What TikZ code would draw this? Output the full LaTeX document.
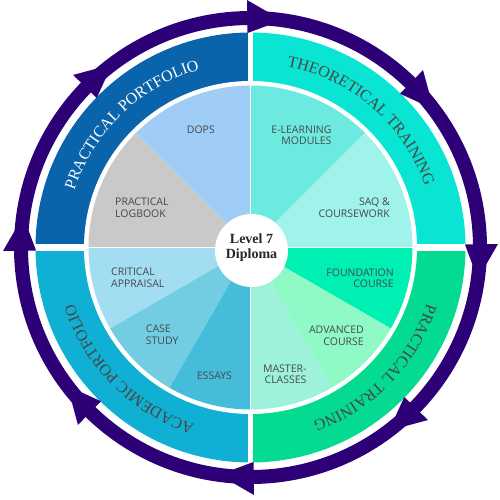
\documentclass[tikz,border=0pt]{standalone}
\usepackage{fontspec}
\setmainfont{Open Sans}
\newfontfamily\bandfont{Liberation Serif}
\usetikzlibrary{decorations.text}

\definecolor{ringpurple}{RGB}{45,0,120}
\definecolor{labelgray}{RGB}{72,72,72}
\definecolor{bandgray}{RGB}{70,70,70}
% outer bands
\definecolor{ppband}{RGB}{10,100,171}
\definecolor{ttband}{RGB}{10,228,210}
\definecolor{ptband}{RGB}{5,218,145}
\definecolor{apband}{RGB}{16,176,212}
% inner wedges
\definecolor{dops}{RGB}{160,205,245}
\definecolor{logbook}{RGB}{201,201,201}
\definecolor{elearn}{RGB}{109,234,224}
\definecolor{saq}{RGB}{159,243,234}
\definecolor{foundation}{RGB}{0,240,180}
\definecolor{advanced}{RGB}{143,250,198}
\definecolor{master}{RGB}{158,242,220}
\definecolor{critical}{RGB}{162,221,242}
\definecolor{casestudy}{RGB}{114,205,226}
\definecolor{essays}{RGB}{69,189,218}

\tikzset{
  wedgelabel/.style={font=\fontsize{10.5}{11.7}\selectfont, text=labelgray, inner sep=0pt},
  bandtext/.style={decorate, decoration={text along path, text align=center, text color=#1}},
  bandtext/.default=bandgray,
}
\newcommand{\bandsize}{\bandfont\fontsize{16}{16}\selectfont}

\begin{document}
\begin{tikzpicture}[x=1pt,y=1pt]

\useasboundingbox (-250.5,-251.5) rectangle (249.5,247.5);

% outer bands
\foreach \a/\c in {90/ppband, 0/ttband, -90/ptband, 180/apband}
  \fill[\c] (0,0) -- (\a:215) arc[start angle=\a, end angle=\a+90, radius=215] -- cycle;
\fill[white] (0,0) circle[radius=166.5];
\draw[white, line width=5] (0,-220) -- (0,220);
\draw[white, line width=7] (-220,0) -- (220,0);

% inner wedges
\foreach \a/\b/\c in {90/135/dops, 135/180/logbook, 45/90/elearn, 0/45/saq,
                      -30/0/foundation, -60/-30/advanced, -90/-60/master,
                      180/210/critical, 210/240/casestudy, 240/270/essays}
  \fill[\c] (0,0) -- (\a:162) arc[start angle=\a, end angle=\b, radius=162] -- cycle;
\draw[white, line width=1.2] (-162,0) -- (162,0);
\draw[white, line width=1.2] (0,-162) -- (0,162);

% ring with arrows
\draw[ringpurple, line width=14] (0,0) circle[radius=229.5];
\foreach \t in {90,45,...,-225}
  \fill[ringpurple] (\t+0.8:214.5) -- (\t+0.8:247.5) -- (\t-7.9:229.5) -- cycle;

% band titles
\path[bandtext=white, decoration={text={|\bandsize|PRACTICAL PORTFOLIO}}]
  (174:185) arc[start angle=174, end angle=94, radius=185];
\path[bandtext, decoration={text={|\bandsize|THEORETICAL TRAINING}}]
  (89:185) arc[start angle=89, end angle=9, radius=185];
\path[bandtext, decoration={text={|\bandsize|PRACTICAL TRAINING}}]
  (-4:185) arc[start angle=-4, end angle=-84, radius=185];
\path[bandtext, decoration={text={|\bandsize|ACADEMIC PORTFOLIO}}]
  (265:185) arc[start angle=265, end angle=185, radius=185];

% wedge labels
\node[wedgelabel, anchor=west] (dopslabel) at (-63.8,117.5) {DOPS};
\node[wedgelabel, anchor=west, align=left] (logbooklabel) at (-135.5,40) {PRACTICAL\\LOGBOOK};
\node[wedgelabel, anchor=east, align=right] (elearnlabel) at (81.2,112.3) {E-LEARNING\\MODULES};
\node[wedgelabel, anchor=east, align=right] (saqlabel) at (139.5,40) {SAQ \&\\COURSEWORK};
\node[wedgelabel, anchor=east, align=right] (foundlabel) at (143.5,-30.8) {FOUNDATION\\COURSE};
\node[wedgelabel, anchor=east, align=right] (advlabel) at (113.5,-88) {ADVANCED\\COURSE};
\node[wedgelabel, anchor=east, align=right] (masterlabel) at (56.2,-126.7) {MASTER-\\CLASSES};
\node[wedgelabel, anchor=west, align=left] (criticallabel) at (-139.5,-30.5) {CRITICAL\\APPRAISAL};
\node[wedgelabel, anchor=west, align=left] (caselabel) at (-104.8,-87.5) {CASE\\STUDY};
\node[wedgelabel, anchor=west] (essayslabel) at (-53.8,-128.5) {ESSAYS};

% centre
\node[circle, fill=white, minimum size=73, inner sep=0pt] (hub) at (1,-3) {};
\node[align=center, text=black!85, font=\bandfont\bfseries\fontsize{14}{15}\selectfont] (diploma) at (1,-0.5) {Level 7\\Diploma};

\end{tikzpicture}
\end{document}
